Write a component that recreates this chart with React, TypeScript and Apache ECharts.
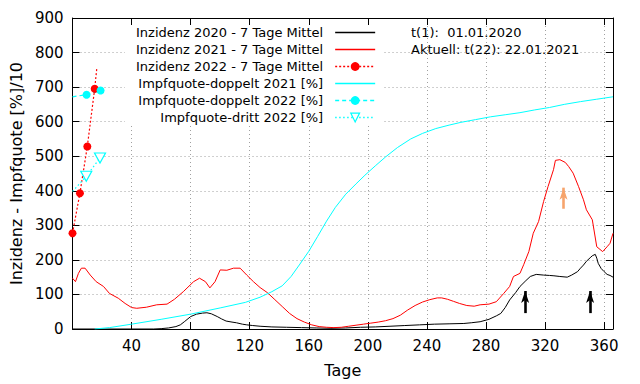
import React, { useEffect, useRef } from 'react';
import * as echarts from 'echarts';

const FONT = 'DejaVu Sans';
const RED = '#ff0000';
const CYAN = '#00ffff';
const BLACK = '#000000';
const ORANGE = '#f6a46c';

// [day, value]
const inzidenz2020: [number, number][] = [
  [0, 0], [55, 0], [60, 1], [65, 3], [70, 7], [73, 12], [76, 22], [80, 36], [84, 43], [88, 46],
  [91, 47], [94, 44], [98, 36], [101, 29], [104, 23], [108, 20], [111, 18], [115, 14], [118, 12],
  [122, 10], [127, 8], [135, 6], [145, 5], [155, 4], [165, 3], [175, 2], [185, 3], [195, 5],
  [205, 6], [215, 8], [225, 10], [235, 12], [245, 14], [255, 15], [265, 16], [270, 18], [276, 21],
  [282, 28], [287, 38], [290, 45], [293, 62], [296, 84], [300, 105], [303, 123], [307, 140],
  [310, 152], [314, 158], [319, 156], [323, 155], [326, 154], [330, 152], [335, 150], [338, 156],
  [342, 166], [344, 176], [346, 185], [348, 196], [351, 208], [352, 212], [354, 216], [355, 205],
  [356, 190], [358, 175], [360, 166], [362, 158], [364, 155], [366, 150],
];

const inzidenz2021: [number, number][] = [
  [0, 147], [2, 137], [4, 161], [6, 176], [8.5, 176], [12, 156], [16, 137], [21, 123], [25, 103],
  [31, 89], [35.6, 74], [40, 62], [43.5, 60], [50, 63], [57, 70], [64, 72], [69, 86], [75, 108],
  [82, 137], [86, 147], [90, 137], [93, 119], [96.5, 137], [100, 171], [104.5, 170], [109, 176],
  [113.5, 176], [118, 156], [122.5, 137], [127, 120], [132, 105], [137, 85], [142, 65], [147, 45],
  [152, 30], [157, 20], [162, 12], [167, 7], [172, 5], [177, 4], [182, 5], [187, 8], [192, 11],
  [197, 14], [202, 17], [207, 20], [212, 24], [217, 30], [222, 40], [227, 55], [232, 68], [237, 78],
  [242, 85], [247, 90], [250, 90], [254, 86], [258, 80], [262, 74], [267, 68], [272, 66], [276, 70],
  [282, 72], [287, 79], [292, 103], [296, 123], [298.6, 152], [303, 161], [305.5, 186], [309, 224],
  [312, 277], [315.6, 311], [319, 369], [322, 412], [325.7, 461], [327, 488], [330, 490],
  [333.7, 482], [336, 470], [339, 451], [342.7, 412], [346, 374], [348, 345], [352, 316], [355, 238],
  [359, 224], [362, 238], [364, 248], [366, 277],
];

const inzidenz2022: [number, number][] = [[0, 277], [5, 393], [10, 528], [15, 695], [16.5, 757]];

const impfDoppelt2021: [number, number][] = [
  [15, 0], [25, 4], [40, 14], [60, 28], [80, 43], [100, 61], [117, 77], [127, 92], [135, 108],
  [142, 125], [148, 152], [154, 188], [160, 225], [166, 268], [172, 312], [178, 352], [185, 390],
  [192, 420], [198, 445], [205, 472], [212, 498], [220, 525], [229, 550], [237, 566], [246, 580],
  [255, 590], [263, 598], [273, 606], [283, 614], [293, 620], [303, 626], [313, 634], [323, 641],
  [333, 650], [344, 658], [355, 665], [366, 672],
];

const impfDoppelt2022: [number, number][] = [[0, 672], [9.5, 678], [19, 690]];
const impfDritt2022: [number, number][] = [[0, 398], [9.3, 442], [18.6, 495]];

// arrows: [day, fromValue, toValue]
const blackArrows: [number, number, number][] = [[306.5, 46, 110], [350.5, 46, 110]];
const orangeArrows: [number, number, number][] = [[332.5, 348, 409]];

const names = [
  'Inzidenz 2020 - 7 Tage Mittel',
  'Inzidenz 2021 - 7 Tage Mittel',
  'Inzidenz 2022 - 7 Tage Mittel',
  'Impfquote-doppelt 2021 [%]',
  'Impfquote-doppelt 2022 [%]',
  'Impfquote-dritt 2022 [%]',
];

const TRI = 'path://M0,0 L12,0 L6,10 Z';

function markedData(pts: [number, number][], noSymbolIdx: number[]) {
  return pts.map((p, i) => (noSymbolIdx.includes(i) ? { value: p, symbol: 'none' } : { value: p }));
}

function arrowLines(arr: [number, number, number][], color: string) {
  return arr.map(([d, a, b]) => [
    { coord: [d, a], symbol: 'none', lineStyle: { color, width: 2.6, type: 'solid' } },
    { coord: [d, b], symbol: 'arrow', symbolSize: [6, 12] },
  ]);
}

const axisTickStyle = { inside: true, length: 7, lineStyle: { color: BLACK, width: 1 } };

function buildOption(): any {
  return {
    animation: false,
    textStyle: { fontFamily: FONT },
    grid: { left: 72, right: 27, top: 18, bottom: 55, show: false },
    legend: {
      orient: 'vertical',
      align: 'right',
      left: 125,
      top: 19,
      padding: [7, 8, 0, 11],
      backgroundColor: '#ffffff',
      itemWidth: 40,
      itemHeight: 11,
      itemGap: 4,
      selectedMode: false,
      textStyle: { fontFamily: FONT, fontSize: 13, color: BLACK, lineHeight: 10, padding: [0, 7, 0, 0] },
      data: [
        { name: names[0], lineStyle: { color: BLACK, width: 1.3, type: 'solid' }, itemStyle: { opacity: 0 } },
        { name: names[1], lineStyle: { color: RED, width: 1.3, type: 'solid' }, itemStyle: { opacity: 0 } },
        { name: names[2], lineStyle: { color: RED, width: 1.3, type: [2, 2] }, itemStyle: { color: RED, borderWidth: 0, opacity: 1 } },
        { name: names[3], lineStyle: { color: CYAN, width: 1.3, type: 'solid' }, itemStyle: { opacity: 0 } },
        { name: names[4], lineStyle: { color: CYAN, width: 1.3, type: [4, 3] }, itemStyle: { color: CYAN, borderWidth: 0, opacity: 1 } },
        { name: names[5], lineStyle: { color: CYAN, width: 1.3, type: [1.5, 2.5] }, itemStyle: { color: '#ffffff', borderColor: CYAN, borderWidth: 1.2, opacity: 1 } },
      ],
    },
    xAxis: [
      {
        type: 'value', min: 0, max: 366, interval: 40, position: 'bottom',
        axisLine: { show: true, onZero: false, lineStyle: { color: BLACK, width: 1 } },
        axisTick: axisTickStyle,
        axisLabel: {
          fontFamily: FONT, fontSize: 15, color: BLACK, margin: 9,
          formatter: (v: number) => (v > 0 && v % 40 === 0 ? String(v) : ''),
        },
        splitLine: { show: true, showMinLine: false, showMaxLine: false, lineStyle: { color: '#a0a0a0', width: 1, type: [1, 3] } },
        name: 'Tage', nameLocation: 'middle', nameGap: 33,
        nameTextStyle: { fontFamily: FONT, fontSize: 16, color: BLACK },
      },
      {
        type: 'value', min: 0, max: 366, interval: 40, position: 'top', z: 10,
        axisLine: { show: true, onZero: false, lineStyle: { color: BLACK, width: 1 } },
        axisTick: axisTickStyle,
        axisLabel: { show: false },
        splitLine: { show: false },
      },
    ],
    yAxis: [
      {
        type: 'value', min: 0, max: 900, interval: 100, position: 'left',
        axisLine: { show: true, onZero: false, lineStyle: { color: BLACK, width: 1 } },
        axisTick: axisTickStyle,
        axisLabel: { fontFamily: FONT, fontSize: 15, color: BLACK, margin: 9 },
        splitLine: { show: true, showMinLine: false, showMaxLine: false, lineStyle: { color: '#a0a0a0', width: 1, type: [1, 3] } },
        name: 'Inzidenz - Impfquote [%]/10', nameLocation: 'middle', nameGap: 47,
        nameTextStyle: { fontFamily: FONT, fontSize: 16, color: BLACK },
      },
      {
        type: 'value', min: 0, max: 900, interval: 100, position: 'right',
        axisLine: { show: true, onZero: false, lineStyle: { color: BLACK, width: 1 } },
        axisTick: axisTickStyle,
        axisLabel: { show: false },
        splitLine: { show: false },
      },
    ],
    graphic: [
      {
        type: 'text', x: 411, y: 32.5,
        style: { text: 't(1):  01.01.2020', fontFamily: FONT, fontSize: 13, fill: BLACK, verticalAlign: 'middle' },
      },
      {
        type: 'text', x: 411, y: 49.5,
        style: { text: 'Aktuell: t(22): 22.01.2021', fontFamily: FONT, fontSize: 13, fill: BLACK, verticalAlign: 'middle' },
      },
    ],
    series: [
      {
        name: names[0], type: 'line', data: inzidenz2020, symbol: 'none', color: BLACK,
        lineStyle: { color: BLACK, width: 1 }, silent: true,
        markLine: {
          silent: true, symbol: ['none', 'arrow'], label: { show: false }, emphasis: { disabled: true },
          animation: false,
          data: [...arrowLines(blackArrows, BLACK), ...arrowLines(orangeArrows, ORANGE)],
        },
      },
      {
        name: names[1], type: 'line', data: inzidenz2021, symbol: 'none', color: RED,
        lineStyle: { color: RED, width: 1 }, silent: true,
      },
      {
        name: names[2], type: 'line', data: markedData(inzidenz2022, [4]), symbol: 'circle', symbolSize: 8,
        showAllSymbol: true, color: RED, itemStyle: { color: RED },
        lineStyle: { color: RED, width: 1.2, type: [2, 2] }, silent: true,
      },
      {
        name: names[3], type: 'line', data: impfDoppelt2021, symbol: 'none', color: CYAN,
        lineStyle: { color: CYAN, width: 1 }, silent: true,
      },
      {
        name: names[4], type: 'line', data: markedData(impfDoppelt2022, [0]), symbol: 'circle', symbolSize: 8,
        showAllSymbol: true, color: CYAN, itemStyle: { color: CYAN },
        lineStyle: { color: CYAN, width: 1.2, type: [4, 3] }, silent: true,
      },
      {
        name: names[5], type: 'line', data: markedData(impfDritt2022, [0]), symbol: TRI, symbolSize: [11, 10],
        showAllSymbol: true, color: CYAN, itemStyle: { color: '#ffffff', borderColor: CYAN, borderWidth: 1.2 },
        lineStyle: { color: CYAN, width: 1.2, type: [1.5, 2.5] }, silent: true,
      },
    ],
  };
}

export default function App() {
  const ref = useRef<HTMLDivElement>(null);
  useEffect(() => {
    document.body.style.margin = '0';
    const chart = echarts.init(ref.current as HTMLDivElement, null, { renderer: 'svg' });
    chart.setOption(buildOption());
    return () => chart.dispose();
  }, []);
  return <div ref={ref} style={{ width: 640, height: 384 }} />;
}
